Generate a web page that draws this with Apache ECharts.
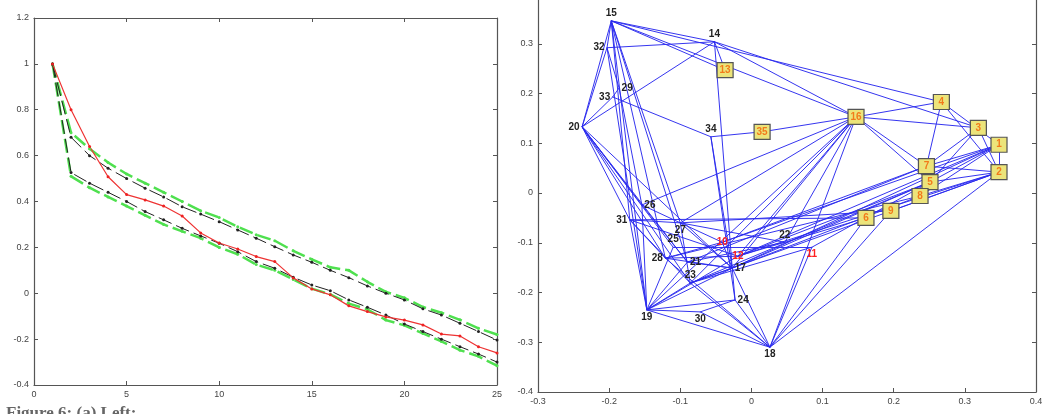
<!DOCTYPE html>
<html>
<head>
<meta charset="utf-8">
<script src="https://cdn.jsdelivr.net/npm/echarts@6/dist/echarts.min.js"></script>
<style>
  html, body { margin: 0; padding: 0; background: #fff; overflow: hidden; }
  /* the chart is taller than the window: the top strip of the right panel is cut off like in the scan */
  #chart { position: absolute; left: 0; top: -20px; width: 1059px; height: 434px; }
</style>
</head>
<body>
<div id="chart"></div>
<script>
// left panel: values at steps 1..25
var steps = [1, 2, 3, 4, 5, 6, 7, 8, 9, 10, 11, 12, 13, 14, 15, 16, 17, 18, 19, 20, 21, 22, 23, 24, 25]
var redVals = [1.0, 0.80, 0.64, 0.508, 0.43, 0.407, 0.38, 0.337, 0.263, 0.219, 0.193, 0.16, 0.138, 0.067, 0.019, -0.007, -0.055, -0.08, -0.103, -0.117, -0.138, -0.178, -0.186, -0.233, -0.26]
var blackUpper = [1.0, 0.68, 0.60, 0.545, 0.50, 0.458, 0.42, 0.377, 0.345, 0.312, 0.276, 0.24, 0.203, 0.167, 0.135, 0.10, 0.068, 0.032, 0.0, -0.029, -0.068, -0.095, -0.131, -0.167, -0.204]
var greenUpper = [1.0, 0.70, 0.63, 0.57, 0.52, 0.48, 0.44, 0.40, 0.36, 0.33, 0.29, 0.255, 0.229, 0.185, 0.148, 0.113, 0.10, 0.05, 0.006, -0.02, -0.06, -0.085, -0.116, -0.153, -0.18]
var blackLower = [1.0, 0.526, 0.48, 0.44, 0.40, 0.356, 0.32, 0.283, 0.25, 0.218, 0.181, 0.138, 0.109, 0.07, 0.036, 0.011, -0.029, -0.061, -0.095, -0.134, -0.167, -0.20, -0.233, -0.265, -0.30]
var greenLower = [1.0, 0.51, 0.46, 0.42, 0.38, 0.34, 0.30, 0.27, 0.24, 0.20, 0.17, 0.125, 0.10, 0.06, 0.02, -0.005, -0.045, -0.07, -0.117, -0.14, -0.175, -0.21, -0.248, -0.275, -0.316]

// right panel: node positions
var nodeIds = ['1', '2', '3', '4', '5', '6', '7', '8', '9', '10', '11', '12', '13', '14', '15', '16', '17', '18',
  '19', '20', '21', '22', '23', '24', '25', '26', '27', '28', '29', '30', '31', '32', '33', '34', '35']
var nodeX = [0.348, 0.348, 0.319, 0.267, 0.251, 0.161, 0.246, 0.237, 0.196, -0.041, 0.085, -0.019, -0.037, -0.052, -0.197, 0.147, -0.027, 0.026,
  -0.147, -0.238, -0.090, 0.047, -0.086, -0.023, -0.110, -0.154, -0.100, -0.121, -0.186, -0.072, -0.171, -0.203, -0.195, -0.057, 0.015]
var nodeY = [0.097, 0.042, 0.131, 0.183, 0.022, -0.050, 0.054, -0.006, -0.036, -0.099, -0.109, -0.127, 0.247, 0.304, 0.346, 0.153, -0.151, -0.310,
  -0.235, 0.133, -0.139, -0.099, -0.181, -0.215, -0.109, -0.024, -0.060, -0.131, 0.211, -0.239, -0.054, 0.292, 0.193, 0.113, 0.123]
var boxedIds = ['1', '2', '3', '4', '5', '6', '7', '8', '9', '13', '16', '35']
var redIds = ['10', '11', '12']
var edgeList = [
  ['15', '14'], ['15', '13'], ['15', '4'], ['15', '16'], ['15', '32'], ['15', '20'], ['15', '31'], ['15', '28'], ['15', '19'], ['15', '27'], ['15', '21'],
  ['14', '32'], ['14', '20'], ['14', '13'], ['14', '16'], ['14', '3'], ['14', '17'],
  ['20', '31'], ['20', '28'], ['20', '21'], ['20', '23'], ['20', '25'], ['20', '17'], ['20', '32'], ['20', '33'], ['20', '26'],
  ['33', '34'], ['33', '29'], ['32', '29'], ['32', '19'], ['29', '26'],
  ['34', '35'], ['34', '24'], ['34', '17'], ['35', '16'],
  ['16', '4'], ['16', '3'], ['16', '7'], ['16', '5'], ['16', '26'], ['16', '27'], ['16', '19'], ['16', '23'], ['16', '12'], ['16', '18'], ['16', '17'], ['16', '22'],
  ['4', '7'], ['4', '1'], ['4', '2'], ['3', '7'], ['3', '5'], ['3', '2'],
  ['1', '7'], ['1', '5'], ['1', '8'], ['1', '2'], ['1', '17'], ['1', '10'], ['1', '12'],
  ['2', '7'], ['2', '5'], ['2', '8'], ['2', '9'], ['2', '18'], ['2', '12'], ['2', '23'],
  ['5', '17'], ['5', '12'], ['5', '23'], ['7', '10'], ['8', '17'], ['5', '11'], ['6', '22'], ['7', '21'], ['8', '28'], ['9', '27'], ['6', '31'],
  ['18', '19'], ['18', '30'], ['18', '24'], ['18', '23'], ['18', '28'], ['18', '17'], ['18', '11'], ['18', '6'], ['18', '9'],
  ['19', '31'], ['19', '26'], ['19', '17'], ['19', '24'], ['19', '30'], ['19', '23'], ['19', '12'], ['19', '21'], ['19', '25'],
  ['31', '27'], ['31', '12'], ['31', '23'], ['31', '28'], ['26', '27'], ['26', '21'], ['27', '23'], ['27', '10'], ['27', '17'], ['27', '22'],
  ['28', '17'], ['28', '12'], ['25', '11'], ['21', '17'], ['21', '22'], ['23', '17'], ['23', '11'], ['10', '17'], ['10', '28'], ['12', '22'], ['17', '24'], ['24', '30']
]

// label placement for the plain (unboxed) nodes
var labelPos = {
  '15': 'top', '14': 'top', '32': 'left', '29': 'right', '33': 'left', '20': 'left', '34': 'top',
  '26': 'right', '31': 'left', '27': 'bottom', '25': 'top', '28': 'left', '21': 'right', '23': 'top',
  '17': 'right', '24': 'right', '19': 'bottom', '30': 'bottom', '18': 'bottom', '22': 'top',
  '10': 'inside', '12': 'inside', '11': 'bottom'
}

var chart = echarts.init(document.getElementById('chart'))

var axisColor = '#555'
var labelStyle = { fontSize: 9, color: '#444', fontFamily: 'Liberation Sans' }

function makeAxis(opt, showLabel) {
  return Object.assign({
    type: 'value',
    splitLine: { show: false },
    axisLine: { show: true, onZero: false, lineStyle: { color: axisColor, width: 1.2 } },
    axisTick: { show: true, inside: true, length: 4, lineStyle: { color: axisColor } },
    axisLabel: Object.assign({ show: showLabel, margin: 5 }, labelStyle)
  }, opt)
}

function dashed(name, vals, color, width, dash) {
  return {
    name: name,
    type: 'line',
    xAxisIndex: 0,
    yAxisIndex: 0,
    data: steps.map(function(s, i) { return [s, vals[i]] }),
    symbol: 'circle',
    symbolSize: 3,
    itemStyle: { color: color },
    lineStyle: { color: color, width: width, type: dash },
    silent: true
  }
}

var nodes = nodeIds.map(function(id, i) {
  var boxed = boxedIds.indexOf(id) >= 0
  var red = redIds.indexOf(id) >= 0
  return {
    name: id,
    value: [nodeX[i], nodeY[i]],
    symbol: boxed ? 'rect' : 'circle',
    symbolSize: boxed ? [16, 15] : 1,
    itemStyle: boxed
      ? { color: '#ece47a', borderColor: '#555', borderWidth: 1.2 }
      : { color: '#3333e6' },
    label: {
      show: true,
      position: boxed ? 'inside' : (labelPos[id] || 'top'),
      distance: 2,
      fontSize: 10,
      fontWeight: 'bold',
      fontFamily: 'Liberation Sans',
      color: boxed ? '#f27a1a' : (red ? '#ff2020' : '#222'),
      formatter: id
    }
  }
})

var links = edgeList.map(function(e) {
  return { source: e[0], target: e[1] }
})

chart.setOption({
  animation: false,
  backgroundColor: '#fff',
  grid: [
    { left: 34, right: 562, top: 38, bottom: 29 },
    { left: 538, right: 23, top: 14, bottom: 22 }
  ],
  xAxis: [
    makeAxis({ gridIndex: 0, min: 0, max: 25, interval: 5, position: 'bottom' }, true),
    makeAxis({ gridIndex: 0, min: 0, max: 25, interval: 5, position: 'top' }, false),
    makeAxis({ gridIndex: 1, min: -0.3, max: 0.4, interval: 0.1, position: 'bottom' }, true),
    makeAxis({ gridIndex: 1, min: -0.3, max: 0.4, interval: 0.1, position: 'top' }, false)
  ],
  yAxis: [
    makeAxis({ gridIndex: 0, min: -0.4, max: 1.2, interval: 0.2, position: 'left' }, true),
    makeAxis({ gridIndex: 0, min: -0.4, max: 1.2, interval: 0.2, position: 'right' }, false),
    makeAxis({ gridIndex: 1, min: -0.4, max: 0.4, interval: 0.1, position: 'left' }, true),
    makeAxis({ gridIndex: 1, min: -0.4, max: 0.4, interval: 0.1, position: 'right' }, false)
  ],
  graphic: [{
    type: 'text',
    left: 6,
    top: 425,
    style: {
      text: 'Figure 6: (a) Left:',
      font: 'bold 17px "Liberation Serif"',
      fill: '#666'
    }
  }],
  series: [
    dashed('green upper', greenUpper, '#4fe04f', 2.5, [14, 5]),
    dashed('green lower', greenLower, '#4fe04f', 2.5, [14, 5]),
    dashed('black upper', blackUpper, '#222', 1, [14, 5]),
    dashed('black lower', blackLower, '#222', 1, [14, 5]),
    {
      name: 'red',
      type: 'line',
      xAxisIndex: 0,
      yAxisIndex: 0,
      data: steps.map(function(s, i) { return [s, redVals[i]] }),
      symbol: 'circle',
      symbolSize: 3,
      itemStyle: { color: '#ee2222' },
      lineStyle: { color: '#ee3333', width: 1.2 },
      silent: true
    },
    {
      type: 'graph',
      coordinateSystem: 'cartesian2d',
      xAxisIndex: 2,
      yAxisIndex: 2,
      layout: 'none',
      silent: true,
      data: nodes,
      links: links,
      lineStyle: { color: '#2a2aee', width: 1, opacity: 0.95, curveness: 0 },
      z: 3
    }
  ]
})
</script>
</body>
</html>
